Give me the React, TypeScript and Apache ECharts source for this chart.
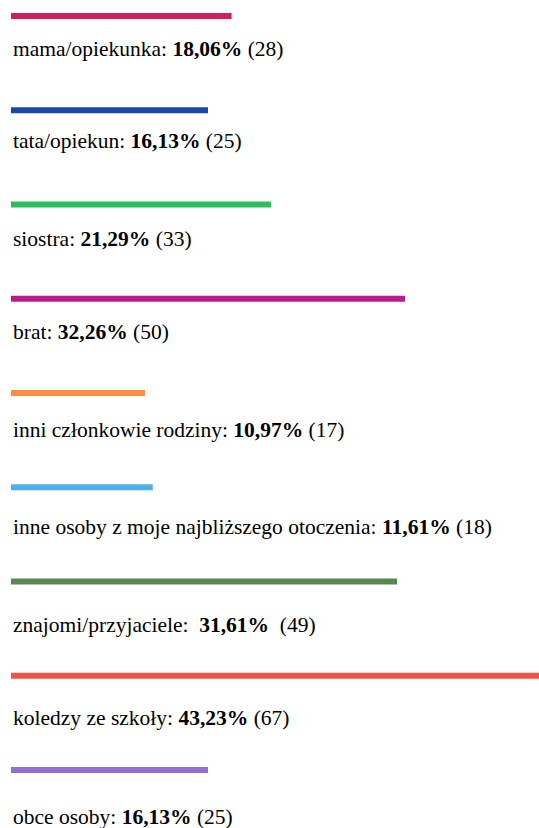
import React, { useEffect, useRef } from "react";
import * as echarts from "echarts";

const categories = [
  "mama/opiekunka:",
  "tata/opiekun:",
  "siostra:",
  "brat:",
  "inni członkowie rodziny:",
  "inne osoby z moje najbliższego otoczenia:",
  "znajomi/przyjaciele: ",
  "koledzy ze szkoły:",
  "obce osoby:",
];
const percentLabels = ["18,06%", "16,13%", "21,29%", "32,26%", "10,97%", "11,61%", "31,61%", "43,23%", "16,13%"];
const percentValues = [18.06, 16.13, 21.29, 32.26, 10.97, 11.61, 31.61, 43.23, 16.13];
const counts = [28, 25, 33, 50, 17, 18, 49, 67, 25];

const colors = ["#d41f5e", "#1c47a6", "#2ebd5e", "#b81c8a", "#fe8c46", "#4eb0ea", "#5a8652", "#f0554a", "#9370d1"];
const labelOffsets = [32.5, 31, 34, 33, 37.2, 39.5, 43.7, 42.7, 46.8];

export default function App() {
  const ref = useRef<HTMLDivElement>(null);
  useEffect(() => {
    document.body.style.margin = "0";
    const chart = echarts.init(ref.current!, null, { renderer: "svg" });
    const font = "'Liberation Serif', 'Times New Roman', serif";
    chart.setOption({
      animation: false,
      backgroundColor: "#ffffff",
      grid: { left: 11, right: 0, top: 16, bottom: 58, containLabel: false },
      xAxis: { type: "value", min: 0, max: 43.23, show: false },
      yAxis: {
        type: "category",
        data: categories,
        inverse: true,
        boundaryGap: false,
        show: false,
      },
      series: [
        {
          type: "bar",
          barWidth: 6,
          clip: false,
          data: percentValues.map((v, i) => ({
            value: v,
            itemStyle: { color: colors[i] },
            label: {
              show: true,
              position: "insideLeft",
              offset: [2 - 5, labelOffsets[i]],
              formatter: () => `{n|${categories[i]} }{b|${percentLabels[i]}}{n| ${i === 6 ? " " : ""}(${counts[i]})}`,
              rich: {
                n: { fontFamily: font, fontSize: 21.5, color: "#000", fontWeight: "normal" },
                b: { fontFamily: font, fontSize: 21.5, color: "#000", fontWeight: "bold" },
              },
            },
          })),
        },
      ],
    });
    return () => chart.dispose();
  }, []);
  return <div ref={ref} style={{ width: 539, height: 828 }} />;
}
